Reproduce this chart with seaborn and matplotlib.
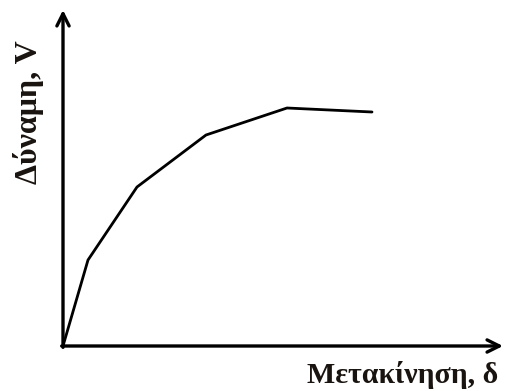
import numpy as np
import pandas as pd
import matplotlib
matplotlib.use('Agg')
import matplotlib.pyplot as plt
import seaborn as sns

# load-displacement curve (arbitrary units)
displacement = [0, 25, 74, 143, 224, 309]
force = [0, 86, 159, 211, 238, 234]

x_max = 440
y_max = 336

sns.set_style('white')
plt.rcParams['font.family'] = ['Liberation Serif', 'DejaVu Serif']

fig = plt.figure(figsize=(5.09, 3.91), dpi=100)
ax = fig.add_axes([63 / 509, 45 / 391, x_max / 509, y_max / 391])

df = pd.DataFrame({'d': displacement, 'V': force})
sns.lineplot(data=df, x='d', y='V', ax=ax, color='black', lw=2.0, sort=False)

ax.set_xlim(0, x_max)
ax.set_ylim(0, y_max)
ax.set_xticks([])
ax.set_yticks([])
ax.set_xlabel('')
ax.set_ylabel('')
for s in ax.spines.values():
    s.set_visible(False)

# axes with arrow heads
arrow = dict(arrowstyle='->', lw=2.4, color='black', mutation_scale=22,
             shrinkA=0, shrinkB=0)
ax.annotate('', xy=(1.0, 0), xytext=(-0.003, 0), xycoords='axes fraction',
            arrowprops=arrow, annotation_clip=False)
ax.annotate('', xy=(0, 1.0), xytext=(0, -0.004), xycoords='axes fraction',
            arrowprops=arrow, annotation_clip=False)

fig.text(28 / 509, 1 - 112 / 391, 'Δύναμη, V', rotation=90, fontsize=23,
         fontweight='bold', color='#1a1410', ha='center', va='center')
fig.text(498 / 509, 1 - 383 / 391, 'Μετακίνηση, δ', fontsize=21.5,
         fontweight='bold', color='#1a1410', ha='right', va='baseline')

fig.savefig('out.png', dpi=100)
